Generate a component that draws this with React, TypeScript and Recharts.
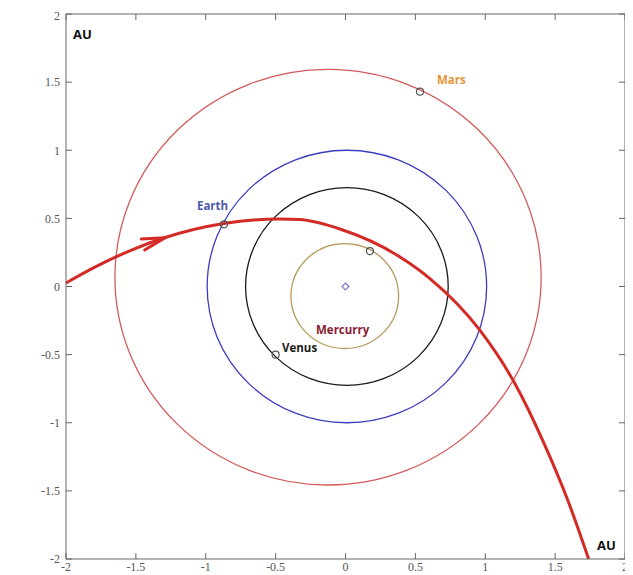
import {
  ComposedChart,
  Line,
  XAxis,
  YAxis,
  ReferenceArea,
} from "recharts";

// axis ticks (AU)
const axisTicks = [-2, -1.5, -1, -0.5, 0, 0.5, 1, 1.5, 2];

// orbits: centre and radius in AU
const orbitNames = ["Mercury", "Venus", "Earth", "Mars"];
const orbitCx = [-0.005, 0.01, 0.01, -0.125];
const orbitCy = [-0.07, 0, 0, 0.068];
const orbitR = [0.385, 0.725, 1.0, 1.525];

// comet trajectory
const cometX = [-2, -1.79, -1.54, -1.29, -0.87, -0.47, -0.33, -0.04, 0.39, 0.6, 0.96, 1.21, 1.41, 1.59, 1.74];
const cometY = [0.026, 0.144, 0.264, 0.36, 0.463, 0.495, 0.491, 0.422, 0.217, 0.062, -0.319, -0.708, -1.127, -1.567, -2];

// planet markers
const planetNames = ["Mercury", "Venus", "Earth", "Mars"];
const planetX = [0.175, -0.5, -0.87, 0.533];
const planetY = [0.26, -0.5, 0.456, 1.43];

// text labels
const labelText = ["AU", "AU", "Mars", "Earth", "Venus", "Mercurry"];
const labelX = [-1.95, 1.8, 0.655, -1.063, -0.454, -0.211];
const labelY = [1.853, -1.897, 1.516, 0.598, -0.451, -0.312];

const sun = [{ x: 0, y: 0 }];
const arrowTip = [{ x: -1.29, y: 0.358 }];

const orbitColors: Record<string, string> = {
  Mercury: "#b89a5c",
  Venus: "#1a1a1a",
  Earth: "#3c3cc0",
  Mars: "#d45a5a",
};

const labelColors: Record<string, string> = {
  AU: "#111111",
  Mars: "#e8953a",
  Earth: "#4a58a8",
  Venus: "#1a1a1a",
  Mercurry: "#8a1c30",
};

const comet = cometX.map((x, i) => ({ x, y: cometY[i] }));
const planets = planetNames.map((name, i) => ({ name, x: planetX[i], y: planetY[i] }));
const labels = labelText.map((text, i) => ({ text, x: labelX[i], y: labelY[i] }));

const axisColor = "#666";
const tickFont = { fill: "#555", fontSize: 12, fontFamily: "Liberation Serif, serif" };
const noLabel = () => <g />;

const arrowDot = (p: any) => {
  const a = (-17 * Math.PI) / 180;
  const len = 24;
  const s = (14 * Math.PI) / 180;
  const b1x = p.cx - len * Math.cos(a - s);
  const b1y = p.cy - len * Math.sin(a - s);
  const b2x = p.cx - len * Math.cos(a + s);
  const b2y = p.cy - len * Math.sin(a + s);
  return (
    <path
      key={`arrow${p.index}`}
      d={`M${b1x},${b1y}L${p.cx},${p.cy}L${b2x},${b2y}`}
      fill="none"
      stroke="#d42a26"
      strokeWidth={3}
      strokeLinecap="round"
      strokeLinejoin="round"
    />
  );
};

const planetDot = (p: any) => (
  <circle key={`planet${p.index}`} cx={p.cx} cy={p.cy} r={3.5} fill="none" stroke="#555" strokeWidth={1.2} />
);

const sunDot = (p: any) => (
  <path
    key={`sun${p.index}`}
    d={`M${p.cx},${p.cy - 3.5}L${p.cx + 3.5},${p.cy}L${p.cx},${p.cy + 3.5}L${p.cx - 3.5},${p.cy}Z`}
    fill="none"
    stroke="#7a7ad0"
    strokeWidth={1.2}
  />
);

const labelDot = (p: any) => (
  <text
    key={`label${p.index}`}
    x={p.cx}
    y={p.cy}
    dominantBaseline="central"
    fill={labelColors[p.payload.text]}
    fontFamily="Open Sans, sans-serif"
    fontWeight="bold"
    fontSize={p.payload.text === "AU" ? 13 : 11.5}
  >
    {p.payload.text}
  </text>
);

export default function App() {
  return (
    <div style={{ width: 625, height: 567 }}>
      <ComposedChart
        width={625}
        height={567}
        data={comet}
        margin={{ top: 5, right: 7, left: 0, bottom: 0 }}
      >
        <XAxis
          dataKey="x"
          type="number"
          domain={[-2, 2]}
          ticks={axisTicks}
          height={16}
          stroke={axisColor}
          tickSize={-6}
          tickMargin={9}
          tick={tickFont}
        />
        <XAxis
          xAxisId="top"
          dataKey="x"
          orientation="top"
          type="number"
          domain={[-2, 2]}
          ticks={axisTicks}
          height={1}
          stroke={axisColor}
          tickSize={-6}
          tick={noLabel}
        />
        <YAxis
          dataKey="y"
          type="number"
          domain={[-2, 2]}
          ticks={axisTicks}
          width={58}
          stroke={axisColor}
          tickSize={-6}
          tickMargin={12}
          tick={tickFont}
        />
        <YAxis
          yAxisId="right"
          dataKey="y"
          orientation="right"
          type="number"
          domain={[-2, 2]}
          ticks={axisTicks}
          width={1}
          stroke={axisColor}
          tickSize={-6}
          tick={noLabel}
        />

        {orbitNames.map((name, i) => (
          <ReferenceArea
            key={name}
            x1={orbitCx[i] - orbitR[i]}
            x2={orbitCx[i] + orbitR[i]}
            y1={orbitCy[i] - orbitR[i]}
            y2={orbitCy[i] + orbitR[i]}
            ifOverflow="visible"
            shape={(p: any) => (
              <ellipse
                cx={p.x + p.width / 2}
                cy={p.y + p.height / 2}
                rx={p.width / 2}
                ry={p.height / 2}
                fill="none"
                stroke={orbitColors[name]}
                strokeWidth={1.3}
              />
            )}
          />
        ))}

        <Line
          dataKey="y"
          type="monotone"
          stroke="#d42a26"
          strokeWidth={3}
          dot={false}
          activeDot={false}
          isAnimationActive={false}
        />
        <Line data={arrowTip} dataKey="y" stroke="none" dot={arrowDot} activeDot={false} isAnimationActive={false} />
        <Line data={planets} dataKey="y" stroke="none" dot={planetDot} activeDot={false} isAnimationActive={false} />
        <Line data={sun} dataKey="y" stroke="none" dot={sunDot} activeDot={false} isAnimationActive={false} />
        <Line data={labels} dataKey="y" stroke="none" dot={labelDot} activeDot={false} isAnimationActive={false} />
      </ComposedChart>
    </div>
  );
}
